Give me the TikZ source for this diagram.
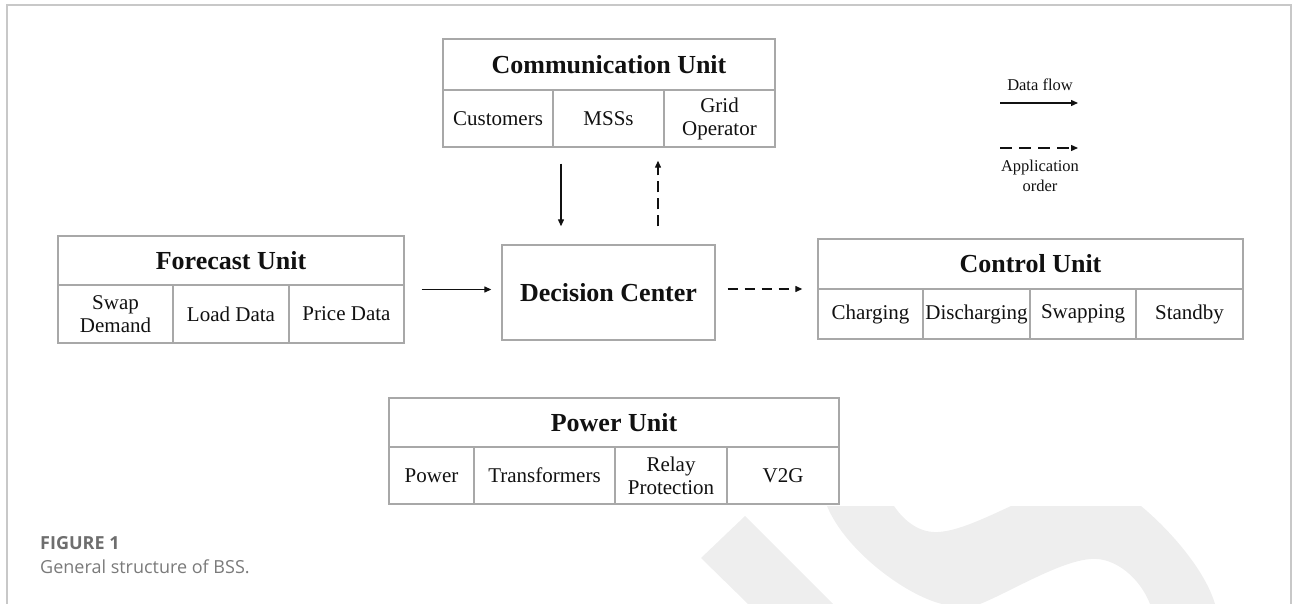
\documentclass[tikz,border=0pt]{standalone}
\usepackage{fontspec}
\setmainfont{Liberation Serif}
\newfontfamily\capfont{Open Sans}
\usetikzlibrary{arrows.meta,fit,calc}
\definecolor{boxline}{HTML}{A8A8A8}
\definecolor{frameline}{HTML}{C8C8C8}
\definecolor{wmark}{HTML}{EEEEEE}
\definecolor{txt}{HTML}{111111}
\definecolor{capgray}{HTML}{6E6E6E}
\definecolor{capgraylight}{HTML}{7A7A7A}
\begin{document}
\begin{tikzpicture}[x=1pt,y=-1pt,
  cellbox/.style={draw=boxline,line width=1.4pt,inner sep=0pt,align=center,text=txt,
    font=\fontsize{21}{23}\selectfont},
  headbox/.style={cellbox,font=\bfseries\fontsize{26}{27}\selectfont},
  unitfit/.style={inner sep=0pt,outer sep=0pt,draw=none},
  flow/.style={line width=1.3pt,draw=txt,-{Triangle[length=7pt,width=6pt]}},
  order/.style={flow,dash pattern=on 10pt off 7pt},
  legtext/.style={align=center,text=txt,inner sep=0pt,font=\fontsize{16.5}{19.5}\selectfont},
]
\useasboundingbox (0,0) rectangle (1293,604);

% watermark
\fill[wmark] (745,516) -- (833,604) -- (748,604) -- (701,558) -- cycle;
\fill[wmark] (827,506) -- (894,506)
  .. controls (905,522) and (920,533) .. (938,532)
  .. controls (958,531) and (985,518) .. (1011,506)
  -- (1141,506)
  .. controls (1170,530) and (1205,570) .. (1215,604)
  -- (1150,604)
  .. controls (1140,578) and (1115,557) .. (1091,559)
  .. controls (1060,561) and (1010,592) .. (980,604)
  -- (942,604)
  .. controls (905,595) and (845,550) .. (827,506) -- cycle;

% frame
\draw[frameline,line width=1.5pt] (7,604) -- (7,5) -- (1291,5) -- (1291,604);

% Communication Unit
\node[headbox,minimum width=332,minimum height=51] (commH) at (609,64.5) {Communication Unit};
\node[cellbox,minimum width=110,minimum height=57] (commC1) at (498,118.5) {Customers};
\node[cellbox,minimum width=111,minimum height=57] (commC2) at (608.5,118.5) {MSSs};
\node[cellbox,minimum width=111,minimum height=57] (commC3) at (719.5,118.5) {Grid\\Operator};
\node[unitfit,fit=(commH)(commC1)(commC3)] (comm) {};

% Forecast Unit
\node[headbox,minimum width=346,minimum height=49] (fcH) at (231,260.5) {Forecast Unit};
\node[cellbox,minimum width=115,minimum height=58] (fcC1) at (115.5,314) {Swap\\Demand};
\node[cellbox,minimum width=116,minimum height=58] (fcC2) at (231,314) {Load Data};
\node[cellbox,minimum width=115,minimum height=58] (fcC3) at (346.5,314) {Price Data};
\node[unitfit,fit=(fcH)(fcC1)(fcC3)] (fc) {};

% Decision Center
\node[headbox,minimum width=213,minimum height=95] (dc) at (608.5,292.5) {Decision Center};

% Control Unit
\node[headbox,minimum width=425,minimum height=50] (ctrlH) at (1030.5,264) {Control Unit};
\node[cellbox,minimum width=105,minimum height=50] (ctrlC1) at (870.5,314) {Charging};
\node[cellbox,minimum width=107,minimum height=50] (ctrlC2) at (976.5,314) {Discharging};
\node[cellbox,minimum width=106,minimum height=50] (ctrlC3) at (1083,314) {Swapping};
\node[cellbox,minimum width=107,minimum height=50] (ctrlC4) at (1189.5,314) {Standby};
\node[unitfit,fit=(ctrlH)(ctrlC1)(ctrlC4)] (ctrl) {};

% Power Unit
\node[headbox,minimum width=450,minimum height=49] (pwH) at (614,422.5) {Power Unit};
\node[cellbox,minimum width=85,minimum height=57] (pwC1) at (431.5,475.5) {Power};
\node[cellbox,minimum width=141,minimum height=57] (pwC2) at (544.5,475.5) {Transformers};
\node[cellbox,minimum width=112,minimum height=57] (pwC3) at (671,475.5) {Relay\\Protection};
\node[cellbox,minimum width=112,minimum height=57] (pwC4) at (783,475.5) {V2G};

% connectors
\draw[flow,shorten <=17pt,shorten >=10pt] (fc.east) -- (fc.east -| dc.west);
\draw[order,shorten <=12pt,shorten >=15pt] (dc.east |- ctrl.west) -- (ctrl.west);
\coordinate (cdA) at ($(comm.south)+(-48,0)$);
\coordinate (cdB) at ($(comm.south)+(49,0)$);
\draw[flow,shorten <=16pt,shorten >=18pt] (cdA) -- (cdA |- dc.north);
\draw[order,dash pattern=on 11pt off 6pt,shorten <=18pt,shorten >=13pt] (cdB |- dc.north) -- (cdB);

% legend
\node[legtext] (lgData) at (1040,85) {Data flow};
\coordinate (lgA1) at (1000,103);
\coordinate (lgA2) at (1078,103);
\draw[flow] (lgA1) -- (lgA2);
\coordinate (lgB1) at (1000,148);
\coordinate (lgB2) at (1078,148);
\draw[order,dash pattern=on 12pt off 7pt] (lgB1) -- (lgB2);
\node[legtext] (lgOrder) at (1040,176) {Application\\order};

% caption
\node[anchor=west,inner sep=0pt,text=capgray,font=\capfont\bfseries\fontsize{18}{20}\selectfont] (figlabel) at (40,543) {FIGURE 1};
\node[anchor=west,inner sep=0pt,text=capgraylight,font=\capfont\fontsize{18}{20}\selectfont] (figcap) at (40,567) {General structure of BSS.};
\end{tikzpicture}
\end{document}
